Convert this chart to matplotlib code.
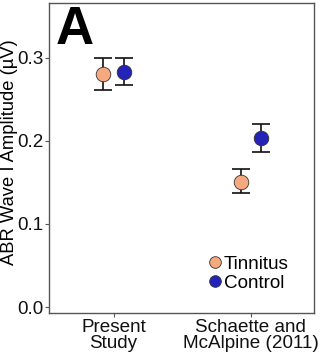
import matplotlib
matplotlib.use('Agg')
import matplotlib.pyplot as plt
import numpy as np

plt.rcParams['font.family'] = ['Liberation Sans', 'DejaVu Sans']

studies = ['Present\nStudy', 'Schaette and\nMcAlpine (2011)']
groups = ['Tinnitus', 'Control']
colors = ['#F6A97E', '#2323B8']
means = {'Tinnitus': [0.280, 0.151], 'Control': [0.283, 0.204]}
lower = {'Tinnitus': [0.261, 0.137], 'Control': [0.267, 0.187]}
upper = {'Tinnitus': [0.300, 0.166], 'Control': [0.300, 0.220]}
yticks = [0.0, 0.1, 0.2, 0.3]

fig = plt.figure(figsize=(3.21, 3.57), dpi=100)
ax = fig.add_axes([49/321, 44/357, 265/321, 310/357])

x = np.arange(1, len(studies) + 1)
offs = [-0.075, 0.075]
for g, c, o in zip(groups, colors, offs):
    m = np.array(means[g])
    lo = m - np.array(lower[g])
    hi = np.array(upper[g]) - m
    ax.errorbar(x + o, m, yerr=[lo, hi], fmt='none', ecolor='#111111',
                elinewidth=1.2, capsize=6.5, capthick=1.2, zorder=2)
    ax.plot(x + o, m, 'o', ms=10.5, mfc=c, mec='#333333', mew=0.6,
            label=g, zorder=3, linestyle='none')

fs = 13.6
ax.set_xlim(0.53, 2.46)
ax.set_ylim(-0.0072, 0.366)
ax.set_xticks(x)
ax.set_xticklabels(studies, fontsize=fs, color='#111111', linespacing=0.95)
ax.set_yticks(yticks)
ax.set_yticklabels(['%.1f' % v for v in yticks], fontsize=fs, color='#111111')
ax.set_ylabel('ABR Wave I Amplitude (\u00b5V)', fontsize=13.2, labelpad=0)
ax.yaxis.set_label_coords(-0.116, 0.52)
for s in ax.spines.values():
    s.set_color('#555555')
    s.set_linewidth(1.0)
ax.tick_params(colors='#555555', labelcolor='#111111', length=3, width=0.8, pad=1)

ax.text(0.025, 0.995, 'A', transform=ax.transAxes, fontsize=38,
        fontweight='bold', va='top', ha='left')

ax.legend(loc='lower right', bbox_to_anchor=(0.955, 0.025), frameon=False,
          fontsize=fs, handletextpad=0.0, labelspacing=0.12, markerscale=0.8,
          borderpad=0.2, handlelength=1.0)

fig.savefig('out.png', dpi=100)
